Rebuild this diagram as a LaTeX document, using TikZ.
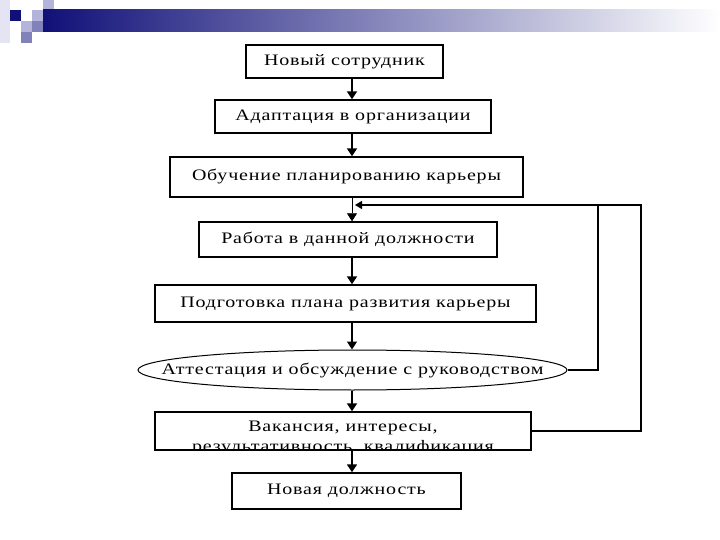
\documentclass[tikz,border=0pt]{standalone}
\usepackage{fontspec}
\setmainfont{Liberation Serif}
\usetikzlibrary{positioning,arrows.meta,shapes.geometric,calc}
\definecolor{barnavy}{RGB}{16,16,120}
\definecolor{barlav}{RGB}{180,180,218}
\definecolor{barmid}{RGB}{130,130,186}
\definecolor{barpale}{RGB}{228,228,242}
\newfontfamily\widefont[FakeStretch=1.25,LetterSpace=5]{Liberation Serif}
\tikzset{
    stage/.style={
           rectangle,
           draw=black, line width=1.4pt,
           minimum height=33pt,
           inner sep=2pt,
           text centered,
           font=\stagefont,
           },
    flow/.style={
           -{Triangle[width=10pt,length=8pt]},
           line width=1.6pt,
           },
    backline/.style={
           line width=1.2pt,
           },
}
\newcommand{\stagefont}{\widefont\fontsize{16}{20}\selectfont}

\begin{document}
\begin{tikzpicture}[x=1pt,y=-1pt]
 \useasboundingbox (0,0) rectangle (720,540);

 % header strip
 \fill[barpale] (0,0) rectangle (10,43);
 \fill[barnavy] (10,10) rectangle (21,21);
 \fill[barlav] (43,0) rectangle (54,10);
 \fill[barlav] (32,10) rectangle (43,21);
 \fill[barlav] (21,21) rectangle (32,32);
 \fill[barmid] (32,21) rectangle (43,32);
 \fill[barmid] (21,32) rectangle (32,43);
 \shade[left color=barnavy, right color=white] (43,10) rectangle (720,32);

 % STAGES
 \node[stage, minimum width=197pt] (NEWEMP) at (344.5,61.5)
 {Новый сотрудник};

 \node[stage, minimum width=276pt] (ADAPT) at (353,116.5)
 {Адаптация в организации};

 \node[stage, minimum width=353pt, minimum height=40pt] (TRAIN) at (346.5,177)
 {Обучение планированию карьеры};

 \node[stage, minimum width=298pt, minimum height=35pt] (WORK) at (348,239.5)
 {Работа в данной должности};

 \node[stage, minimum width=381pt, minimum height=37pt] (PLAN) at (345.5,303.5)
 {Подготовка плана развития карьеры};

 % ellipse drawn empty, text put over it
 \node[ellipse, draw=black, line width=1pt, inner sep=0pt,
 minimum width=429pt, minimum height=40pt] (APPRAISAL) at (352.5,370) {};
 \node[font=\stagefont] (APPRAISALTXT) at (APPRAISAL.center)
 {Аттестация и обсуждение с руководством};

 % second line runs under the frame
 \node[stage, minimum width=376pt, minimum height=38pt,
 path picture={
  \node[draw=none, align=center, font=\stagefont, yshift=-7pt]
  at (path picture bounding box.center)
  {Вакансия, интересы,\\результативность, квалификация};
 }] (VACANCY) at (343,431) {};

 \node[stage, minimum width=229pt, minimum height=36pt] (NEWPOS) at (346.5,491)
 {Новая должность};

 % connectors
 \coordinate (TRUNK) at (352,0);
 \coordinate (RETIN) at (355,205);
 \coordinate (RETA) at (598,205);
 \coordinate (RETB) at (641,205);

 \draw[flow] (NEWEMP.south -| TRUNK) -- (ADAPT.north -| TRUNK);
 \draw[flow] (ADAPT.south -| TRUNK) -- (TRAIN.north -| TRUNK);
 \draw[flow, line width=0.8pt] (TRAIN.south -| TRUNK) -- (WORK.north -| TRUNK);
 \draw[flow] (WORK.south -| TRUNK) -- (PLAN.north -| TRUNK);
 \draw[flow] (PLAN.south -| TRUNK) -- (APPRAISAL.north -| TRUNK);
 \draw[flow] (APPRAISAL.south -| TRUNK) -- (VACANCY.north -| TRUNK);
 \draw[flow] (VACANCY.south -| TRUNK) -- (NEWPOS.north -| TRUNK);

 % feedback
 \draw[backline] (APPRAISAL.east) -| (RETA);
 \draw[backline, -{Triangle[width=8pt,length=7pt]}] (VACANCY.east) -| (RETB) -- (RETIN);

\end{tikzpicture}
\end{document}
